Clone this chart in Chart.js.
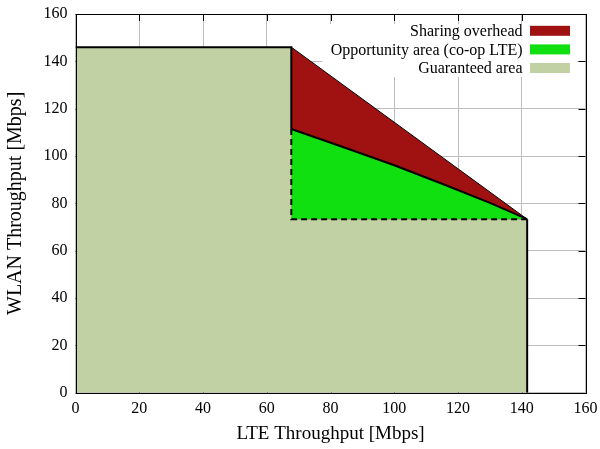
<!DOCTYPE html>
<html><head><meta charset="utf-8">
<script src="https://cdn.jsdelivr.net/npm/chart.js@4/dist/chart.umd.min.js"></script>
<style>html,body{margin:0;padding:0;background:#fff;} #c{display:block;}</style>
</head><body>
<canvas id="c" width="600" height="449"></canvas>
<script>
// ---- data ----
const axisTicks = [0, 20, 40, 60, 80, 100, 120, 140, 160];
const legendLabels = ['Sharing overhead', 'Opportunity area (co-op LTE)', 'Guaranteed area'];
const legendColors = ['#a01111', '#10e010', '#c2d1a3'];

// Guaranteed area outline (LTE, WLAN)
const guaranteedLTE  = [0, 67.7, 67.7, 141.7, 141.7];
const guaranteedWLAN = [146, 146, 73.3, 73.3, 0];
// Opportunity area upper boundary (co-op LTE)
const opportunityLTE  = [67.7, 85, 100, 115, 130, 141.7];
const opportunityWLAN = [111.4, 103.3, 96.1, 88.3, 80.2, 73.3];
// Sharing overhead upper boundary
const overheadLTE  = [67.7, 141.7];
const overheadWLAN = [146, 73.3];
// Level of the guaranteed corner
const cornerWLAN = 73.3;

const zip = (xs, ys) => xs.map((v, i) => ({x: v, y: ys[i]}));

const guaranteedPts = zip(guaranteedLTE, guaranteedWLAN);
const opportunityPts = zip(opportunityLTE, opportunityWLAN);
const overheadPts = zip(overheadLTE, overheadWLAN);
const topEdge = guaranteedPts.slice(0, 2).concat([opportunityPts[0]]);
const dashedEdge = [opportunityPts[0], guaranteedPts[2], guaranteedPts[3]];
const rightEdge = guaranteedPts.slice(3);

Chart.defaults.font.family = "'Liberation Serif', 'DejaVu Serif', serif";
Chart.defaults.color = '#000';

const framePlugin = {
  id: 'frame',
  beforeDatasetsDraw(chart) {
    const {ctx, chartArea: a, scales: {x, y}} = chart;
    ctx.save();
    // opaque key background
    ctx.fillStyle = '#fff';
    ctx.fillRect(a.left + 247, a.top + 10, a.right - a.left - 255, 53);
    // inward tick marks on all four sides
    ctx.strokeStyle = '#000';
    ctx.lineWidth = 1;
    ctx.beginPath();
    axisTicks.forEach(v => {
      const px = Math.round(x.getPixelForValue(v)) + 0.5;
      ctx.moveTo(px, a.top); ctx.lineTo(px, a.top + 7);
      ctx.moveTo(px, a.bottom); ctx.lineTo(px, a.bottom - 7);
      const py = Math.round(y.getPixelForValue(v)) + 0.5;
      ctx.moveTo(a.left, py); ctx.lineTo(a.left + 7, py);
      ctx.moveTo(a.right, py); ctx.lineTo(a.right - 7, py);
    });
    ctx.stroke();
    ctx.restore();
  },
  afterDatasetsDraw(chart) {
    const {ctx, chartArea: a} = chart;
    ctx.save();
    ctx.strokeStyle = '#000';
    ctx.lineWidth = 1;
    const l = Math.round(a.left) + 0.5, t = Math.round(a.top) + 0.5;
    const r = Math.round(a.right) + 0.5, b = Math.round(a.bottom) + 0.5;
    ctx.strokeRect(l, t, r - l, b - t);
    // key
    ctx.font = "16px 'Liberation Serif', serif";
    ctx.textAlign = 'right';
    ctx.textBaseline = 'middle';
    legendLabels.forEach((lab, i) => {
      const cy = a.top + 16.8 + i * 18.6;
      ctx.fillStyle = '#000';
      ctx.fillText(lab, a.right - 63, cy + 1);
      ctx.fillStyle = legendColors[i];
      ctx.fillRect(a.right - 55.5, cy - 5, 40, 10);
    });
    ctx.restore();
  }
};

const lineStyle = {pointRadius: 0, fill: false, borderColor: '#000', tension: 0};

new Chart(document.getElementById('c'), {
  type: 'line',
  data: {
    datasets: [
      {label: 'top edge', data: topEdge, ...lineStyle, borderWidth: 2, order: 1},
      {label: 'opportunity edge', data: opportunityPts, ...lineStyle, borderWidth: 2, order: 1},
      {label: 'overhead edge', data: overheadPts, ...lineStyle, borderWidth: 1, order: 1},
      {label: 'dashed', data: dashedEdge, ...lineStyle, borderWidth: 2, borderDash: [6, 4], order: 1},
      {label: 'right edge', data: rightEdge, ...lineStyle, borderWidth: 2, order: 1},
      {label: legendLabels[1], data: opportunityPts, pointRadius: 0, borderWidth: 0,
       backgroundColor: legendColors[1], fill: {value: cornerWLAN}, order: 8},
      {label: legendLabels[0], data: overheadPts, pointRadius: 0, borderWidth: 0,
       backgroundColor: legendColors[0], fill: {value: cornerWLAN}, order: 9},
      {label: legendLabels[2], data: guaranteedPts, pointRadius: 0, borderWidth: 0,
       backgroundColor: legendColors[2], fill: 'origin', order: 10}
    ]
  },
  options: {
    responsive: false,
    animation: false,
    devicePixelRatio: 1,
    layout: {padding: {top: 14, right: 14.5, left: 0, bottom: 0}},
    plugins: {legend: {display: false}, tooltip: {enabled: false}},
    scales: {
      x: {
        type: 'linear', min: 0, max: 160,
        afterBuildTicks: s => { s.ticks = axisTicks.map(v => ({value: v})); },
        afterFit: s => { s.height = 56.3; s.paddingLeft = 0; s.paddingRight = 0; },
        ticks: {font: {size: 16}, color: '#000', padding: 6, maxRotation: 0},
        grid: {color: '#bdbdbd', lineWidth: 1, drawTicks: false},
        border: {display: false},
        title: {display: true, text: 'LTE Throughput [Mbps]', font: {size: 19}, color: '#000', padding: {top: 0, bottom: 4}}
      },
      y: {
        type: 'linear', min: 0, max: 160,
        afterBuildTicks: s => { s.ticks = axisTicks.map(v => ({value: v})); },
        afterFit: s => { s.width = 75.5; s.paddingTop = 0; s.paddingBottom = 0; },
        ticks: {font: {size: 16}, color: '#000', padding: 8},
        grid: {color: '#bdbdbd', lineWidth: 1, drawTicks: false},
        border: {display: false},
        title: {display: true, text: 'WLAN Throughput [Mbps]', font: {size: 20}, color: '#000', padding: {top: 4, bottom: 0}}
      }
    }
  },
  plugins: [framePlugin]
});
</script>
</body></html>
